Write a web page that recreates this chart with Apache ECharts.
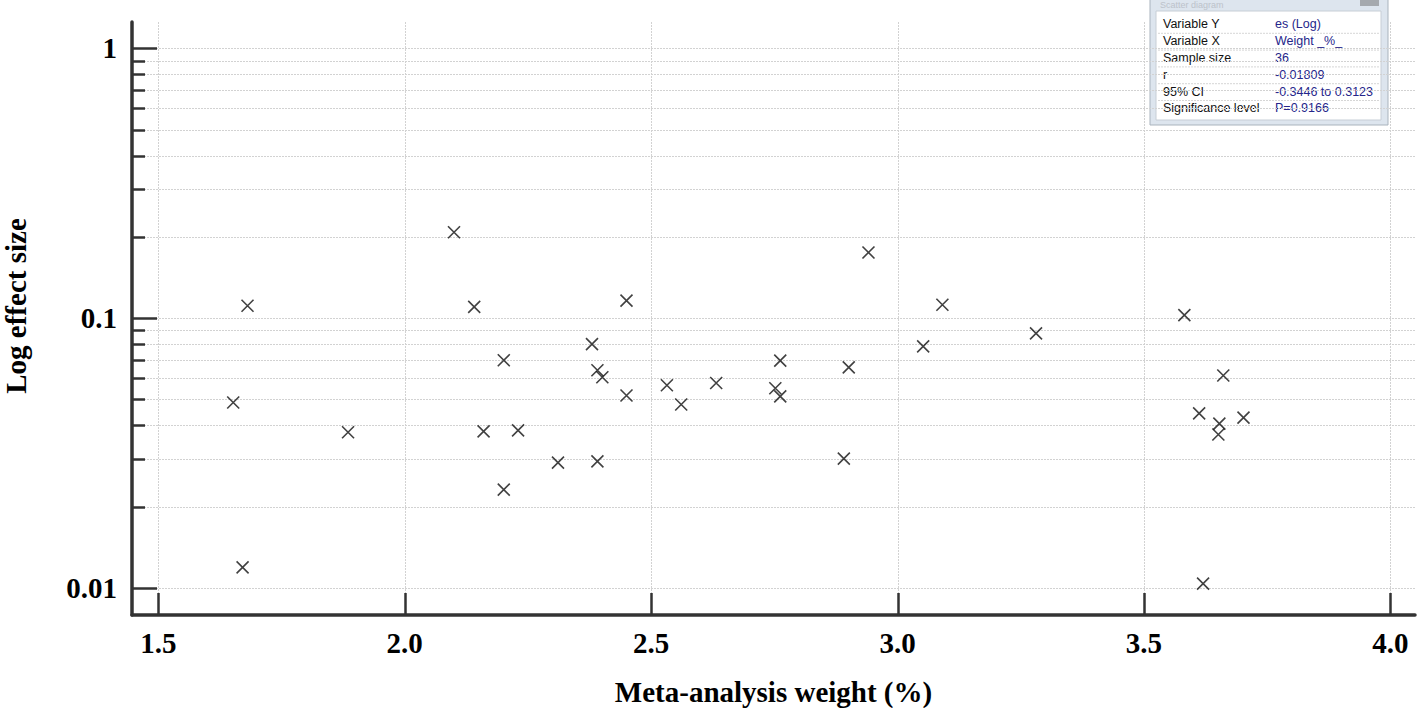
<!DOCTYPE html>
<html>
<head>
<meta charset="utf-8">
<title>Scatter diagram</title>
<script src="https://cdn.jsdelivr.net/npm/echarts@6/dist/echarts.min.js"></script>
<style>
  html, body { margin: 0; padding: 0; background: #ffffff; }
  #chart { width: 1418px; height: 708px; }
</style>
</head>
<body>
<div id="chart"></div>
<script>
// ---- Data ----
const weightPct = [1.652, 1.681, 1.671, 1.885, 2.100, 2.141, 2.201, 2.160, 2.230, 2.201,
                   2.311, 2.380, 2.391, 2.401, 2.391, 2.450, 2.450, 2.532, 2.561, 2.632,
                   2.752, 2.762, 2.762, 2.891, 2.901, 2.941, 3.052, 3.091, 3.281, 3.582,
                   3.612, 3.661, 3.653, 3.651, 3.702, 3.620];
const effectSize = [0.0486, 0.1110, 0.01189, 0.0377, 0.2080, 0.1100, 0.0697, 0.0380, 0.0383, 0.0231,
                    0.0291, 0.0800, 0.0640, 0.0603, 0.0294, 0.1160, 0.0516, 0.0563, 0.0478, 0.0574,
                    0.0549, 0.0695, 0.0512, 0.0301, 0.0656, 0.1750, 0.0785, 0.1120, 0.0877, 0.1025,
                    0.0443, 0.0612, 0.0406, 0.0370, 0.0427, 0.01035];
const xTickValues = [1.5, 2.0, 2.5, 3.0, 3.5, 4.0];
const yMajorTicks = [0.01, 0.1, 1];
const yMinorTicks = [0.02, 0.03, 0.04, 0.05, 0.06, 0.07, 0.08, 0.09,
                     0.2, 0.3, 0.4, 0.5, 0.6, 0.7, 0.8, 0.9];
const xAxisTitle = 'Meta-analysis weight (%)';
const yAxisTitle = 'Log effect size';
const insetTitle = 'Scatter diagram';
const insetLabels = ['Variable Y', 'Variable X', 'Sample size', 'r', '95% CI', 'Significance level'];
const insetValues = ['es (Log)', 'Weight _%_', '36', '-0.01809', '-0.3446 to 0.3123', 'P=0.9166'];

// axis ranges (axes extend slightly beyond the labelled ticks)
const X_MIN = 1.4466, X_MAX = 4.05;
const Y_MIN = 0.00792, Y_MAX = 1.252;

const AXIS_COLOR = '#333333';
const GRID_COLOR = '#d2d2d2';
const serif = '"Liberation Serif", "Times New Roman", serif';

const points = weightPct.map((x, i) => [x, effectSize[i]]);
const yGridData = yMajorTicks.concat(yMinorTicks).map(v => [X_MIN, v, yMajorTicks.indexOf(v) >= 0 ? 1 : 0]);
const xGridData = xTickValues.map(v => [v, Y_MIN]);

function renderYGrid(params, api) {
  const cs = params.coordSys;
  const v = api.value(1);
  const major = api.value(2) === 1;
  const p = api.coord([X_MIN, v]);
  const y = Math.round(p[1]) + 0.5;
  return {
    type: 'group',
    children: [
      { type: 'line', z2: 1,
        shape: { x1: cs.x, y1: y, x2: cs.x + cs.width, y2: y },
        style: { stroke: GRID_COLOR, lineWidth: 1, lineDash: [2, 1] } },
      { type: 'line', z2: 10,
        shape: { x1: cs.x, y1: y, x2: cs.x + (major ? 25 : 13), y2: y },
        style: { stroke: AXIS_COLOR, lineWidth: 2.5 } }
    ]
  };
}

function renderXGrid(params, api) {
  const cs = params.coordSys;
  const v = api.value(0);
  const p = api.coord([v, Y_MIN]);
  const x = Math.round(p[0]) + 0.5;
  const bottom = cs.y + cs.height;
  return {
    type: 'group',
    children: [
      { type: 'line', z2: 1,
        shape: { x1: x, y1: cs.y, x2: x, y2: bottom },
        style: { stroke: GRID_COLOR, lineWidth: 1, lineDash: [2, 1] } },
      { type: 'line', z2: 10,
        shape: { x1: x, y1: bottom, x2: x, y2: bottom - 22 },
        style: { stroke: AXIS_COLOR, lineWidth: 2.5 } }
    ]
  };
}

// ---- inset statistics box ----
const IX = 1150, IY = -14, IW = 238, IH = 139;
const rowTop = 15, rowH = 16.8;
const insetChildren = [
  { type: 'rect', shape: { x: IX, y: IY, width: IW, height: IH },
    style: { fill: '#dde5ee', stroke: '#a9b3bd', lineWidth: 1 } },
  { type: 'text', x: IX + 10, y: 5,
    style: { text: insetTitle, fill: '#bcc2ca', font: '9px "Liberation Sans", Arial, sans-serif',
             textVerticalAlign: 'middle' } },
  { type: 'rect', shape: { x: 1360, y: -2, width: 19, height: 8 },
    style: { fill: '#a5a9ae' } },
  { type: 'rect', shape: { x: IX + 6, y: 11, width: IW - 13, height: 109 },
    style: { fill: '#ffffff', stroke: '#c7ced6', lineWidth: 1 } }
];
insetLabels.forEach((lab, i) => {
  const cy = rowTop + rowH * i + rowH / 2 + 1;
  if (i < insetLabels.length - 1) {
    insetChildren.push({ type: 'line',
      shape: { x1: IX + 8, y1: rowTop + rowH * (i + 1) + 1.5, x2: IX + IW - 9, y2: rowTop + rowH * (i + 1) + 1.5 },
      style: { stroke: '#d6d6d6', lineWidth: 1, lineDash: [2, 1] } });
  }
  insetChildren.push({ type: 'text', x: 1163, y: cy,
    style: { text: lab, fill: '#111111', font: '12.5px "Liberation Sans", Arial, sans-serif',
             textVerticalAlign: 'middle' } });
  insetChildren.push({ type: 'text', x: 1275, y: cy,
    style: { text: insetValues[i], fill: '#25258a', font: '12.5px "Liberation Sans", Arial, sans-serif',
             textVerticalAlign: 'middle' } });
});

const chart = echarts.init(document.getElementById('chart'), null, { renderer: 'svg' });
chart.setOption({
  backgroundColor: '#ffffff',
  animation: false,
  grid: { left: 132, right: 3, top: 22, bottom: 93, containLabel: false, outerBoundsMode: 'none' },
  xAxis: {
    type: 'value',
    min: X_MIN, max: X_MAX,
    name: xAxisTitle,
    nameLocation: 'middle',
    nameGap: 62,
    nameTextStyle: { fontFamily: serif, fontWeight: 'bold', fontSize: 29, color: '#000' },
    axisLine: { show: true, onZero: false, lineStyle: { color: AXIS_COLOR, width: 3.5 } },
    axisTick: { show: false },
    splitLine: { show: false },
    axisLabel: {
      showMinLabel: false, showMaxLabel: false,
      margin: 13,
      fontFamily: serif, fontWeight: 'bold', fontSize: 29, color: '#000',
      formatter: v => v.toFixed(1)
    }
  },
  yAxis: {
    type: 'log',
    logBase: 10,
    min: Y_MIN, max: Y_MAX,
    name: yAxisTitle,
    nameLocation: 'middle',
    nameGap: 102,
    nameRotate: 90,
    nameTextStyle: { fontFamily: serif, fontWeight: 'bold', fontSize: 29, color: '#000', padding: [0, 0, 0, 25] },
    axisLine: { show: true, onZero: false, lineStyle: { color: AXIS_COLOR, width: 3.5 } },
    axisTick: { show: false },
    splitLine: { show: false },
    axisLabel: {
      showMinLabel: false, showMaxLabel: false,
      margin: 15,
      fontFamily: serif, fontWeight: 'bold', fontSize: 29, color: '#000',
      formatter: v => String(v)
    }
  },
  series: [
    { type: 'custom', name: 'yGrid', renderItem: renderYGrid, data: yGridData,
      encode: { x: 0, y: 1 }, silent: true, clip: false, z: 1 },
    { type: 'custom', name: 'xGrid', renderItem: renderXGrid, data: xGridData,
      encode: { x: 0, y: 1 }, silent: true, clip: false, z: 1 },
    {
      type: 'scatter',
      name: 'Studies',
      data: points,
      symbol: 'path://M0 0L10 10M10 0L0 10',
      symbolSize: 12,
      itemStyle: { color: 'rgba(0,0,0,0)', borderColor: '#111111', borderWidth: 1.6 },
      z: 5
    }
  ],
  graphic: [{ type: 'group', z: 100, children: insetChildren }]
});
</script>
</body>
</html>
